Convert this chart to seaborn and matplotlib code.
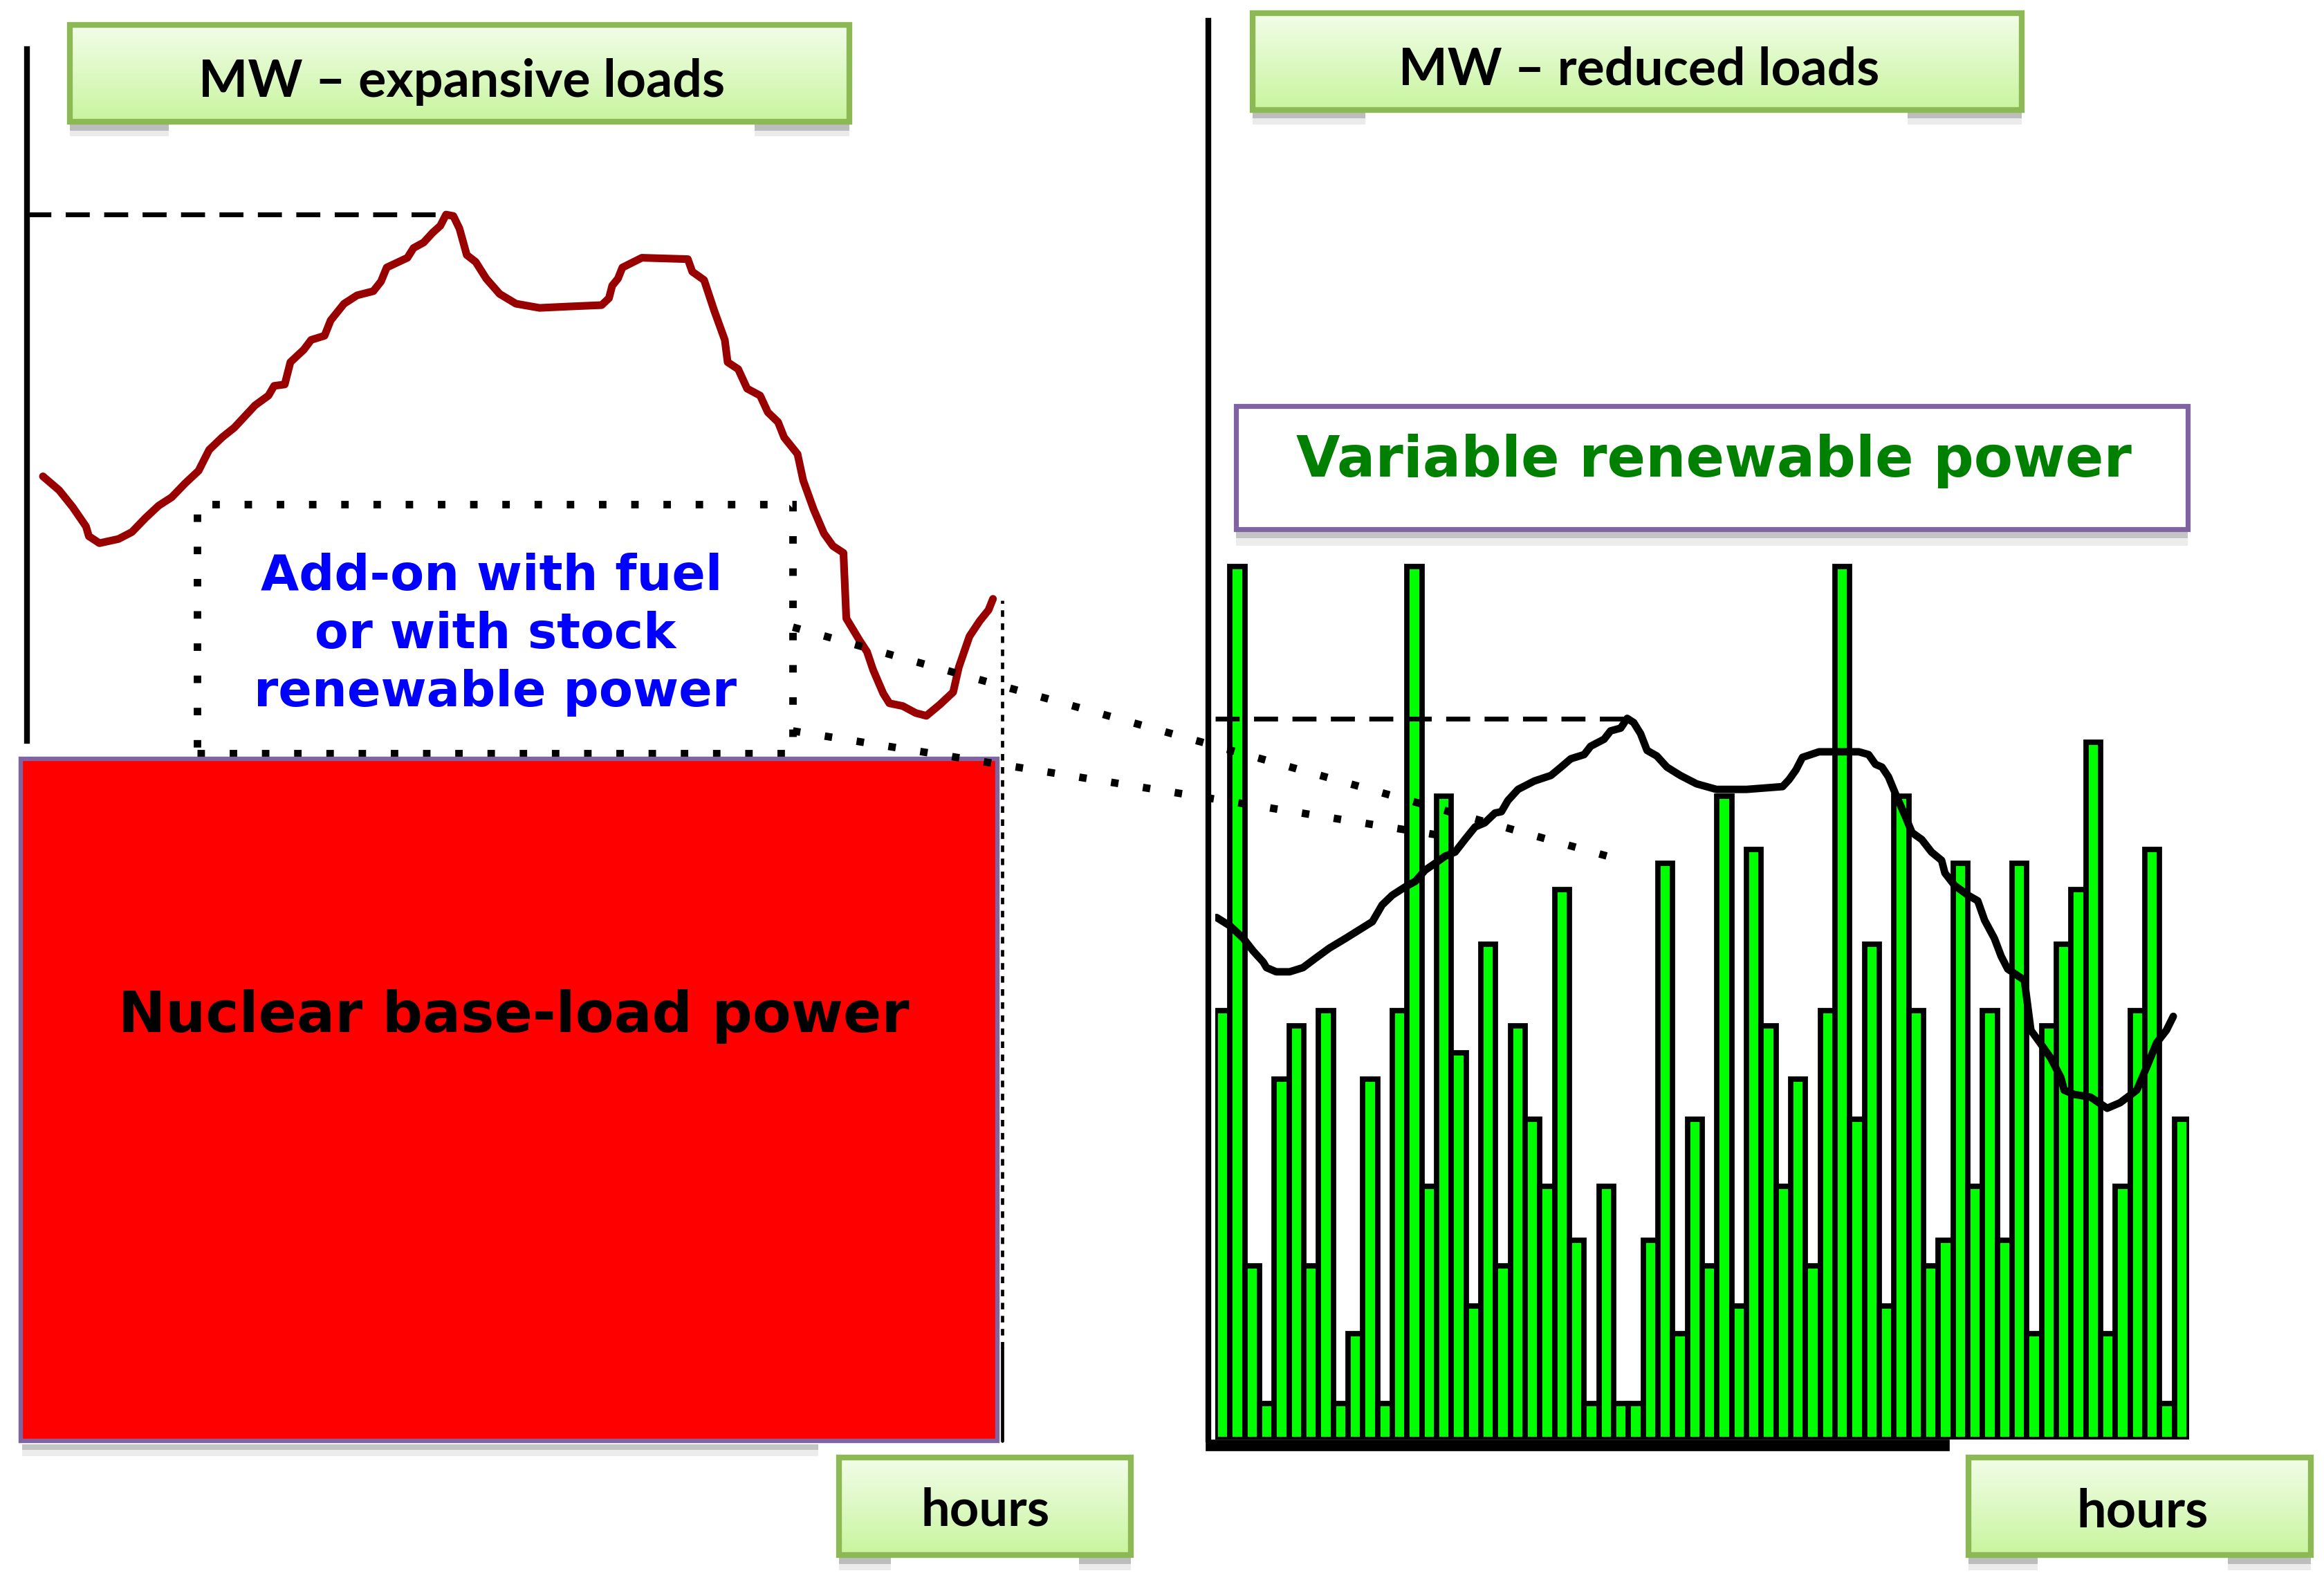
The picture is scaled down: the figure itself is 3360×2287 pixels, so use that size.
import matplotlib
matplotlib.use('Agg')
import matplotlib.pyplot as plt
import seaborn as sns
import numpy as np
from matplotlib.patches import Rectangle
from matplotlib.colors import to_rgb

# expansive load curve (left panel), hours vs MW
LOAD_HOURS = [0.40, 0.80, 1.13, 1.46, 1.53, 1.79, 2.26, 2.59, 2.92, 3.25,
              3.57, 3.90, 4.23, 4.49, 4.81, 5.11, 5.62, 5.95, 6.09, 6.35,
              6.49, 6.82, 7.00, 7.33, 7.48, 7.81, 8.13, 8.53, 8.72, 8.86,
              9.37, 9.52, 9.77, 9.99, 10.18, 10.32, 10.50, 10.65, 10.83, 11.05,
              11.31, 11.64, 12.04, 12.62, 13.35, 14.15, 14.33, 14.41, 14.55, 14.66,
              15.14, 16.27, 16.38, 16.67, 16.92, 17.18, 17.25, 17.51, 17.73, 18.05,
              18.24, 18.49, 18.64, 18.97, 19.11, 19.37, 19.62, 19.84, 20.10, 20.17,
              20.50, 20.68, 20.83, 21.08, 21.23, 21.56, 21.88, 22.14, 22.47, 22.80,
              22.94, 23.20, 23.45, 23.67, 23.78]
LOAD_MW = [69.3, 68.3, 67.1, 65.7, 65.0, 64.5, 64.8, 65.3, 66.3, 67.2,
           67.8, 68.8, 69.7, 71.2, 72.1, 72.8, 74.4, 75.1, 75.8, 75.9,
           77.5, 78.4, 79.1, 79.4, 80.5, 81.7, 82.3, 82.6, 83.3, 84.3,
           85.0, 85.7, 86.1, 86.8, 87.3, 88.1, 88.0, 87.1, 85.2, 84.7,
           83.5, 82.4, 81.7, 81.4, 81.5, 81.6, 82.1, 83.0, 83.5, 84.3,
           85.0, 84.9, 84.0, 83.4, 81.2, 79.1, 77.5, 77.0, 75.6, 75.1,
           73.9, 73.2, 72.1, 70.9, 69.0, 66.9, 65.2, 64.3, 63.8, 59.1,
           57.5, 56.7, 55.4, 53.7, 53.0, 52.8, 52.3, 52.1, 52.9, 53.8,
           55.6, 57.8, 58.9, 59.7, 60.5]

NUCLEAR_MW = 49.0
NUCLEAR_HOURS = (-0.15, 23.89)
ADDON_HOURS = (4.2, 18.85)
ADDON_MW = (49.4, 67.3)

# reduced load curve (right panel)
REDUCED_HOURS = [0.03, 0.36, 0.69, 0.93, 1.18, 1.26, 1.50, 1.83, 2.16, 2.48,
                 2.81, 3.21, 3.54, 3.87, 4.11, 4.36, 4.68, 4.93, 5.17, 5.42,
                 5.66, 5.91, 6.15, 6.40, 6.64, 6.89, 7.05, 7.21, 7.46, 7.86,
                 8.27, 8.52, 8.76, 9.09, 9.25, 9.58, 9.74, 9.99, 10.15, 10.31,
                 10.48, 10.64, 10.88, 11.13, 11.46, 11.86, 12.35, 13.09, 13.98, 14.14,
                 14.31, 14.47, 14.88, 15.86, 16.10, 16.27, 16.43, 16.59, 16.76, 17.00,
                 17.17, 17.41, 17.65, 17.90, 17.98, 18.22, 18.55, 18.79, 18.96, 19.20,
                 19.37, 19.53, 19.94, 20.10, 20.35, 20.59, 20.84, 20.92, 21.16, 21.57,
                 21.98, 22.30, 22.71, 22.96, 23.20, 23.44, 23.61]
REDUCED_MW = [37.5, 36.9, 36.0, 35.1, 34.3, 33.9, 33.6, 33.6, 33.9, 34.6,
              35.3, 36.0, 36.6, 37.2, 38.4, 39.1, 39.7, 40.1, 40.9, 41.4,
              41.9, 42.2, 43.1, 44.0, 44.3, 45.0, 45.1, 45.9, 46.7, 47.3,
              47.7, 48.3, 48.9, 49.2, 49.8, 50.3, 50.9, 51.1, 51.8, 51.5,
              50.7, 49.5, 49.1, 48.3, 47.7, 47.1, 46.7, 46.7, 46.9, 47.4,
              48.1, 49.0, 49.4, 49.4, 49.2, 48.5, 48.3, 47.6, 46.4, 44.8,
              43.6, 43.1, 42.2, 41.6, 40.7, 39.8, 39.1, 38.7, 37.3, 36.0,
              34.7, 33.8, 33.0, 29.4, 28.4, 27.4, 26.0, 25.1, 24.8, 24.6,
              23.8, 24.2, 25.1, 26.8, 28.5, 29.4, 30.4]

# variable renewable output per time slot
RENEWABLE_MW = [30.8, 62.7, 12.5, 2.6, 25.9, 29.7, 12.5, 30.8, 2.6, 7.6,
                25.9, 2.6, 30.8, 62.7, 18.2, 46.2, 27.8, 9.6, 35.6, 12.5,
                29.7, 23.0, 18.2, 39.5, 14.3, 2.6, 18.2, 2.6, 2.6, 14.3,
                41.4, 7.6, 23.0, 12.5, 46.2, 9.6, 42.4, 29.7, 18.2, 25.9,
                12.5, 30.8, 62.7, 23.0, 35.6, 9.6, 46.2, 30.8, 12.5, 14.3,
                41.4, 18.2, 30.8, 14.3, 41.4, 7.6, 29.7, 35.6, 39.5, 50.1,
                7.6, 18.2, 30.8, 42.4, 2.6, 23.0]

TITLE_LEFT = "MW – expansive loads"
TITLE_RIGHT = "MW – reduced loads"
ADDON_LINES = ["Add-on with fuel", "or with stock", "renewable power"]

sns.set_theme(style='white')

# layout grid of the reference (1568 x 1067 units)
W, H = 1568, 1067
PX = 3360 / W
fig = plt.figure(figsize=(16.8, 11.435), dpi=200)
renderer = fig.canvas.get_renderer()


def frac(x0, y0, x1, y1):
    return [x0 / W, 1 - y1 / H, (x1 - x0) / W, (y1 - y0) / H]


def fit_text(ax, x, y, s, width, **kw):
    t = ax.text(x, y, s, ha='center', va='baseline', fontsize=20, **kw)
    w = t.get_window_extent(renderer=renderer).width
    t.set_fontsize(20 * width * PX / w)
    return t


def green_box(ax, x0, y0, x1, y1, shadows):
    top, bottom = np.array(to_rgb('#f2fde9')), np.array(to_rgb('#c8f59e'))
    t = np.linspace(0, 1, 64)[:, None, None]
    grad = top * (1 - t) + bottom * t
    ax.imshow(grad, extent=(x0, x1, y1, y0), aspect='auto', interpolation='bilinear', zorder=2)
    ax.add_patch(Rectangle((x0, y0), x1 - x0, y1 - y0, fill=False, ec='#8cb954', lw=3.0, zorder=3))
    for sx0, sx1 in shadows:
        ax.add_patch(Rectangle((sx0, y1 + 1), sx1 - sx0, 5, fc='#bdbdbd', ec='none', zorder=1))
        ax.add_patch(Rectangle((sx0, y1 + 6), sx1 - sx0, 4, fc='#ebebeb', ec='none', zorder=1))


# ---- left panel: expansive loads ----
ax_l = fig.add_axes(frac(18, 33, 676, 972))
ax_l.set_facecolor('none')
ax_l.set_xlim(0, 24)
ax_l.set_ylim(0, 100)

ax_l.add_patch(Rectangle((NUCLEAR_HOURS[0], 0), NUCLEAR_HOURS[1] - NUCLEAR_HOURS[0], NUCLEAR_MW,
                         fc='#ff0000', ec='#8064a2', lw=2.3, clip_on=False, zorder=1))
ax_l.add_patch(Rectangle((ADDON_HOURS[0], ADDON_MW[0]), ADDON_HOURS[1] - ADDON_HOURS[0],
                         ADDON_MW[1] - ADDON_MW[0], fill=False, ec='black', lw=3.9,
                         ls=(0, (1, 3.3)), clip_on=False, zorder=0.5))

sns.lineplot(x=LOAD_HOURS, y=LOAD_MW, ax=ax_l, color='#990000', lw=4.0,
             estimator=None, sort=False, zorder=3)
peak = int(np.argmax(LOAD_MW))
ax_l.plot([0, LOAD_HOURS[peak]], [LOAD_MW[peak], LOAD_MW[peak]], color='black',
          lw=2.5, ls=(0, (5, 3)), zorder=3)
ax_l.plot([24, 24], [6.7, 60.4], color='black', lw=1.7, ls=(0, (2, 2)), clip_on=False, zorder=3)
ax_l.plot([24, 24], [0, 6.7], color='black', lw=1.7, clip_on=False, zorder=3)

for side in ['top', 'right', 'bottom']:
    ax_l.spines[side].set_visible(False)
ax_l.spines['left'].set_color('black')
ax_l.spines['left'].set_linewidth(3.0)
ax_l.spines['left'].set_bounds(50.3, 100)
ax_l.set_xticks([])
ax_l.set_yticks([])

# ---- right panel: reduced loads + variable renewables ----
ax_r = fig.add_axes(frac(820, 14, 1477, 971))
ax_r.set_facecolor('none')
slot = 24 / len(RENEWABLE_MW)
slot_hours = (np.arange(len(RENEWABLE_MW)) + 0.5) * slot
sns.barplot(x=slot_hours, y=RENEWABLE_MW, ax=ax_r, native_scale=True, width=1,
            color='#00ff00', saturation=1, edgecolor='black', linewidth=2.8,
            errorbar=None, zorder=1)
sns.lineplot(x=REDUCED_HOURS, y=REDUCED_MW, ax=ax_r, color='black', lw=3.9,
             estimator=None, sort=False, zorder=3)
rpeak = int(np.argmax(REDUCED_MW))
ax_r.plot([0, REDUCED_HOURS[rpeak]], [REDUCED_MW[rpeak], REDUCED_MW[rpeak]], color='black',
          lw=2.5, ls=(0, (5, 3)), zorder=4)
ax_r.set_xlim(0, 24)
ax_r.set_ylim(0, 101.9)
for side in ['top', 'right']:
    ax_r.spines[side].set_visible(False)
ax_r.spines['left'].set_color('black')
ax_r.spines['left'].set_linewidth(3.0)
ax_r.spines['left'].set_position(('data', -0.18))
ax_r.spines['left'].set_bounds(0, 101.9)
ax_r.spines['bottom'].set_color('black')
ax_r.spines['bottom'].set_linewidth(6.0)
ax_r.spines['bottom'].set_position(('data', -0.37))
ax_r.spines['bottom'].set_bounds(-0.1, 17.95)
ax_r.set_xticks([])
ax_r.set_yticks([])
ax_r.set_xlabel('')
ax_r.set_ylabel('')

# ---- overlay: labels, boxes and connectors ----
ax_o = fig.add_axes([0, 0, 1, 1])
ax_o.set_facecolor('none')
ax_o.axis('off')

green_box(ax_o, 47, 17, 573, 82, [(47, 114), (509, 573)])
green_box(ax_o, 845, 9, 1364, 74, [(845, 921), (1287, 1364)])
green_box(ax_o, 566, 983, 763, 1049, [(566, 601), (728, 763)])
green_box(ax_o, 1328, 983, 1559, 1049, [(1328, 1375), (1503, 1559)])

ax_o.add_patch(Rectangle((834, 358), 642, 5, fc='#c4c4c4', ec='none', zorder=1))
ax_o.add_patch(Rectangle((834, 363), 642, 5, fc='#ececec', ec='none', zorder=1))
ax_o.add_patch(Rectangle((834, 274), 642, 83, fc='white', ec='#8064a2', lw=2.6, zorder=2))
ax_o.add_patch(Rectangle((15, 974), 537, 4, fc='#c4c4c4', ec='none', zorder=1))
ax_o.add_patch(Rectangle((15, 978), 537, 4, fc='#ececec', ec='none', zorder=1))

dots = dict(color='black', lw=3.9, ls=(0, (1, 3.3)), dash_capstyle='butt', zorder=5)
ax_o.plot([535, 1090], [423, 579], **dots)
ax_o.plot([535, 975], [493, 564], **dots)

calibri = dict(family=['Lato', 'DejaVu Sans'], weight='bold', color='black', zorder=6)
verdana = dict(family=['DejaVu Sans'], weight='bold', zorder=6)
fit_text(ax_o, 311.5, 65.5, TITLE_LEFT, 355, **calibri)
fit_text(ax_o, 1106, 57, TITLE_RIGHT, 324, **calibri)
fit_text(ax_o, 665, 1029, "hours", 87, **calibri)
fit_text(ax_o, 1445.5, 1030, "hours", 89, **calibri)
fit_text(ax_o, 1156.5, 321.4, "Variable renewable power", 563, color='#008000', **verdana)
fit_text(ax_o, 331.5, 398, ADDON_LINES[0], 311, color='#0000ff', **verdana)
fit_text(ax_o, 334, 437, ADDON_LINES[1], 244, color='#0000ff', **verdana)
fit_text(ax_o, 334, 476.4, ADDON_LINES[2], 325, color='#0000ff', **verdana)
fit_text(ax_o, 346.5, 696, "Nuclear base-load power", 533, color='black', **verdana)

ax_o.set_xlim(0, W)
ax_o.set_ylim(H, 0)

fig.savefig('out.png', dpi=200)
plt.close(fig)
